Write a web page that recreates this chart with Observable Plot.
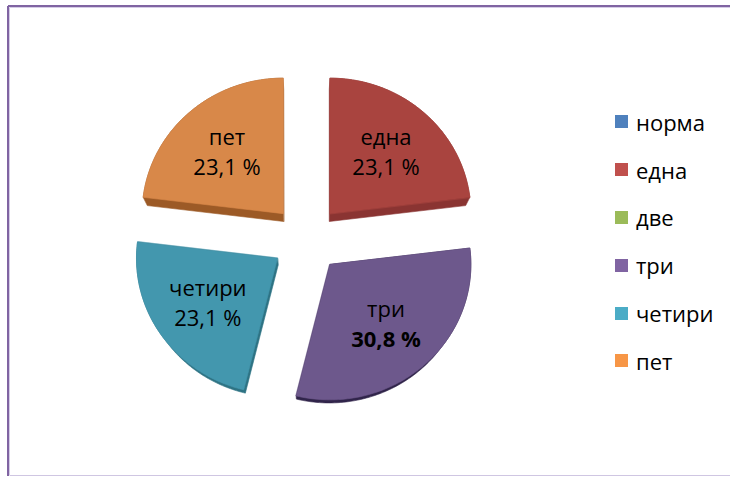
<!DOCTYPE html>
<html>
<head>
<meta charset="utf-8">
<script src="https://cdn.jsdelivr.net/npm/d3@7"></script>
<script src="https://cdn.jsdelivr.net/npm/@observablehq/plot@0.6"></script>
<style>
  html, body { margin: 0; padding: 0; background: #fff; overflow: hidden; }
  #wrap { position: relative; width: 730px; height: 477px; overflow: hidden; font-family: "Open Sans", sans-serif; }
  #chart { position: absolute; left: 0; top: 0; }
  #legend { position: absolute; left: 615px; top: 98px; }
  .row { display: flex; align-items: center; height: 47.8px; font-size: 22px; color: #000; }
  .sw { width: 13px; height: 13px; margin-right: 8px; flex: none; }
</style>
</head>
<body>
<div id="wrap">
  <div id="chart"></div>
  <div id="legend"></div>
</div>
<script>
// ---- data ----
const categories = ["норма", "една", "две", "три", "четири", "пет"];
const values = [0, 3, 0, 4, 3, 3];
const legendColors = ["#4F81BD", "#C0504D", "#9BBB59", "#8064A2", "#4BACC6", "#F79646"];
const topColors = ["#41709F", "#A9443F", "#86A64A", "#6D588C", "#4397AE", "#D88849"];
const sideColors = ["#2C4F7A", "#8A3432", "#617A34", "#30244A", "#2E7384", "#9C5A26"];

// ---- layout constants ----
const cx = 306, cy = 238.5, rx = 141, ry = 135.5;
const explode = 0.25, labelR = 0.6;
const k = 0.0256, depthPx = 7.2;
const depth = depthPx / ry;
const fmt = d3.format(".1f");

const total = d3.sum(values);
const tops = [], sides = [], labels = [];
let acc = 0;
categories.forEach((name, i) => {
  const v = values[i];
  const a0 = acc / total * 2 * Math.PI;
  acc += v;
  const a1 = acc / total * 2 * Math.PI;
  if (v <= 0) return;
  const m = (a0 + a1) / 2;
  const ox = explode * Math.sin(m), oy = explode * Math.cos(m);
  const P = [[ox, oy]];
  const n = 90;
  for (let j = 0; j <= n; j++) {
    const t = a0 + (a1 - a0) * j / n;
    P.push([ox + Math.sin(t), oy + Math.cos(t)]);
  }
  const Q = P.map(([x, y]) => [x * (1 - k), y * (1 - k) - depth]);
  const hull = d3.polygonHull(P.concat(Q));
  hull.forEach(([x, y]) => sides.push({key: name, x, y, fill: sideColors[i]}));
  P.forEach(([x, y]) => tops.push({key: name, x, y, fill: topColors[i]}));
  labels.push({
    name,
    pct: fmt(v / total * 100).replace(".", ",") + " %",
    x: ox + labelR * Math.sin(m),
    y: oy + labelR * Math.cos(m),
    bold: v === d3.max(values)
  });
});

const font = "Open Sans";
const chart = Plot.plot({
  width: 730,
  height: 477,
  margin: 0,
  style: {background: "transparent"},
  x: {domain: [-1, 1], range: [cx - rx, cx + rx], axis: null},
  y: {domain: [-1, 1], range: [cy + ry, cy - ry], axis: null},
  marks: [
    Plot.line(sides, {x: "x", y: "y", z: "key", fill: "fill", stroke: "fill", strokeWidth: 0.6, curve: "linear-closed"}),
    Plot.line(tops, {x: "x", y: "y", z: "key", fill: "fill", stroke: "fill", strokeWidth: 0.6, curve: "linear-closed"}),
    Plot.text(labels, {x: "x", y: "y", text: "name", dy: -15, fontSize: 22, fontFamily: font, fill: "#000"}),
    Plot.text(labels.filter(d => !d.bold), {x: "x", y: "y", text: "pct", dy: 15, fontSize: 22, fontFamily: font, fill: "#000"}),
    Plot.text(labels.filter(d => d.bold), {x: "x", y: "y", text: "pct", dy: 15, fontSize: 22, fontFamily: font, fontWeight: "bold", fill: "#000"})
  ]
});

// chart-area border (decoration, drawn into the same SVG)
const svg = d3.select(chart);
const g = svg.insert("g", ":first-child").attr("fill", "none");
g.append("path").attr("d", "M9.5,7.5H730M9.5,7.5V475").attr("stroke", "#D5CCE6").attr("stroke-width", 1);
g.append("path").attr("d", "M9.5,475.5H730").attr("stroke", "#CFC6E2").attr("stroke-width", 1);
g.append("path").attr("d", "M8,6H730M8,6V476").attr("stroke", "#8064A2").attr("stroke-width", 2);
document.getElementById("chart").appendChild(chart);

// ---- legend ----
const lg = document.getElementById("legend");
categories.forEach((name, i) => {
  const row = document.createElement("div");
  row.className = "row";
  const sw = document.createElement("span");
  sw.className = "sw";
  sw.style.background = legendColors[i];
  const tx = document.createElement("span");
  tx.textContent = name;
  row.appendChild(sw);
  row.appendChild(tx);
  lg.appendChild(row);
});
</script>
</body>
</html>
